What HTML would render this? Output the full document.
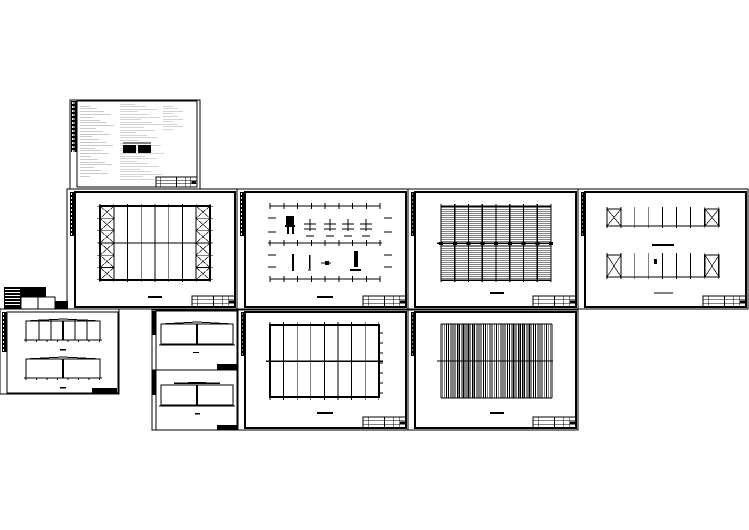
<!DOCTYPE html>
<html><head><meta charset="utf-8"><style>
html,body{margin:0;padding:0;background:#fff;width:749px;height:530px;overflow:hidden}
svg{display:block}
</style></head><body>
<svg id="s" width="749" height="530" viewBox="0 0 749 530" xmlns="http://www.w3.org/2000/svg" shape-rendering="crispEdges"></svg>
<script>
const S=document.getElementById('s');let o='';
const L=(x1,y1,x2,y2,w=0.7,c='#000')=>{o+=`<line x1="${x1}" y1="${y1}" x2="${x2}" y2="${y2}" stroke="${c}" stroke-width="${w}"/>`};
const R=(x,y,w,h,sw=1,f='none')=>{o+=`<rect x="${x}" y="${y}" width="${w}" height="${h}" fill="${f}" stroke="#000" stroke-width="${sw}"/>`};
const F=(x,y,w,h,c='#000')=>{o+=`<rect x="${x}" y="${y}" width="${w}" height="${h}" fill="${c}"/>`};
function strip(x,y,w,h){F(x,y,w,h);for(let i=0;i<h/4;i++){F(x+1,y+1+i*4,w-3,2,'#fff');}L(x+w/2,y,x+w/2,y+h,0.6)}
function tb(x,y,w,h){R(x,y,w,h,0.8);L(x,y+h/3,x+w,y+h/3,0.5);L(x,y+2*h/3,x+w,y+2*h/3,0.5);L(x+w*0.12,y,x+w*0.12,y+h,0.5);L(x+w*0.5,y,x+w*0.5,y+h,0.8);L(x+w*0.72,y,x+w*0.72,y+h,0.5);L(x+w*0.85,y,x+w*0.85,y+h,0.5);F(x+w*0.86,y+h*0.4,w*0.12,h*0.3)}
function sheet(x1,y1,x2,y2,ix1,iy1,ix2,iy2){R(x1,y1,x2-x1,y2-y1,0.8);R(ix1,iy1,ix2-ix1,iy2-iy1,1.6);strip(x1+3,iy1,ix1-x1-3,44);tb(ix2-43,iy2-11,43,11)}
R(70,100,130,89,0.8);R(77,101,120,86,1.4);strip(71,101,6,51);tb(156,177,41,10);
for(let i=0;i<26;i++){L(80,106+i*2.8,80+10+((i*7)%25),106+i*2.8,0.5,'#999');}
for(let i=0;i<30;i++){L(120,104+i*2.6,120+15+((i*11)%30),104+i*2.6,0.5,'#aaa');}
for(let i=0;i<10;i++){L(163,106+i*2.6,163+10+((i*5)%15),106+i*2.6,0.5,'#aaa');}
F(123,145,13,8);F(138,145,13,8);L(123,143,151,143,1);
const rows=[[67,237,75],[237,408,245],[408,578,415],[578,748,585]];
rows.forEach(r=>sheet(r[0],189,r[1],309,r[2],192,r[1]-2,307));
(function(){R(100,206,110,74,1.6);for(let i=0;i<=8;i++){let x=100+i*13.75;L(x,204,x,282,0.8)}L(98,243,212,243,1.2);
for(let k=0;k<6;k++){[[100,114],[196,210]].forEach(a=>{let y=206+k*12.3;R(a[0],y,14,12.3,0.6);L(a[0],y,a[1],y+12.3,0.6);L(a[1],y,a[0],y+12.3,0.6)})}
for(let k=0;k<7;k++){let y=206+k*12.3;L(97,y,100,y,0.5);L(210,y,213,y,0.5)}F(148,296,14,2)})();
(function(){L(270,206,380,206,1);L(270,279,380,279,1);L(268,243,382,243,1.2);for(let i=0;i<=8;i++){let x=270+i*13.75;L(x,203,x,209,1);L(x,240,x,246,1);L(x,276,x,282,1)}
[[256,218],[256,232],[256,255],[256,267]].forEach(p=>{L(p[0]+12,p[1],p[0]+20,p[1],1);L(384,p[1],392,p[1],1)});
F(286,216,8,10);L(285,226,295,226,2);F(287,226,2,8);F(292,226,2,8);
[310,330,348,366].forEach(x=>{L(x,219,x,231,1);L(x-6,224,x+6,224,0.8);L(x-6,229,x+6,229,0.8);L(x-4,236,x+4,236,0.8)});
F(292,254,2,17);F(309,255,1.5,14);L(308,270,311,270,1);L(321,263,331,263,1);F(325,261,4,4);F(354,251,4,16);L(350,270,361,270,2)})();
F(317,296,16,2);
(function(){for(let i=0;i<=38;i++){let y=206+i*1.95;L(441,y,551,y,0.5)}for(let i=0;i<=8;i++){let x=441+i*13.75;L(x,204,x,282,1.2);F(x-2,242,4,3)}L(437,243,553,243,1.5);L(441,206,551,206,1.5);L(441,280,551,280,1.5);F(490,292,14,2)})();
(function(){[[207,226],[253,277]].forEach(a=>{let [t,b]=a;L(606,b,720,b,1);for(let i=0;i<=8;i++){let x=607+i*13.9;L(x,t,x,b+2,0.8)}[[607,621],[705,719]].forEach(c=>{R(c[0],t+2,14,b-t-2,0.7);L(c[0],t+2,c[1],b,0.7);L(c[1],t+2,c[0],b,0.7)})});F(652,244,22,2);L(654,293,673,293,1);F(654,259,3,5)})();
R(0,309,119,85,0.8);R(7,312,111,81,1.2);strip(2,312,5,40);
F(4,287,17,22);for(let i=0;i<6;i++)F(5,289+i*3,15,1.2,'#fff');F(21,287,25,10);R(21,297,17,12,0.6);R(38,297,17,12,0.6);F(55,301,13,8);L(4,309,68,309,1.2);
[[319,340],[357,378]].forEach(a=>{let [t,b]=a;R(26,t+2,74,b-t-2,1);L(26,t+2,63,t,1);L(63,t,100,t+2,1);F(62,t+2,2,b-t-2);L(24,b,102,b,0.6);for(let i=0;i<8;i++){L(26+i*10.5,b,26+i*10.5,b+2,0.6)}});
L(39,319,39,340,0.7);L(51,319,51,340,1.2);L(75,319,75,340,0.7);L(87,319,87,340,0.7);F(60,349,6,1.5);F(60,387,6,1.5);F(92,388,25,5);
R(152,310,86,60,0.8);R(156,311,81,59,1.2);R(152,370,86,60,0.8);R(156,370,81,60,1.2);F(152,311,4,24);F(152,370,4,25);
R(161,324,72,20,1);L(161,324,197,322,1);L(197,322,233,324,1);F(196,324,2,20);L(159,345,235,345,0.6);F(193,352,6,1);F(217,364,20,6);
R(161,385,72,20,1);L(174,383,220,383,1.5);F(188,382,18,2);F(196,385,2,20);L(159,406,235,406,0.6);F(195,413,5,1.5);F(217,425,20,5);
sheet(238,310,408,430,245,312,406,428);sheet(408,310,578,430,415,312,576,428);
(function(){R(270,325,109,72,1.6);for(let i=0;i<=8;i++){L(270+i*13.6,322,270+i*13.6,400,0.8)}L(266,361,383,361,1.5);F(317,412,16,2);
for(let i=0;i<=6;i++){L(379,333+i*10,383,333+i*10,0.6)}})();
(function(){for(let i=0;i<=60;i++){let x=441+i*1.85;L(x,324,x,398,(i%3==0)?1.2:0.7)}L(437,361,553,361,1.2);L(441,324,552,324,1);L(441,398,552,398,1);F(490,412,14,2)})();
S.innerHTML=o;
</script>
</body></html>
